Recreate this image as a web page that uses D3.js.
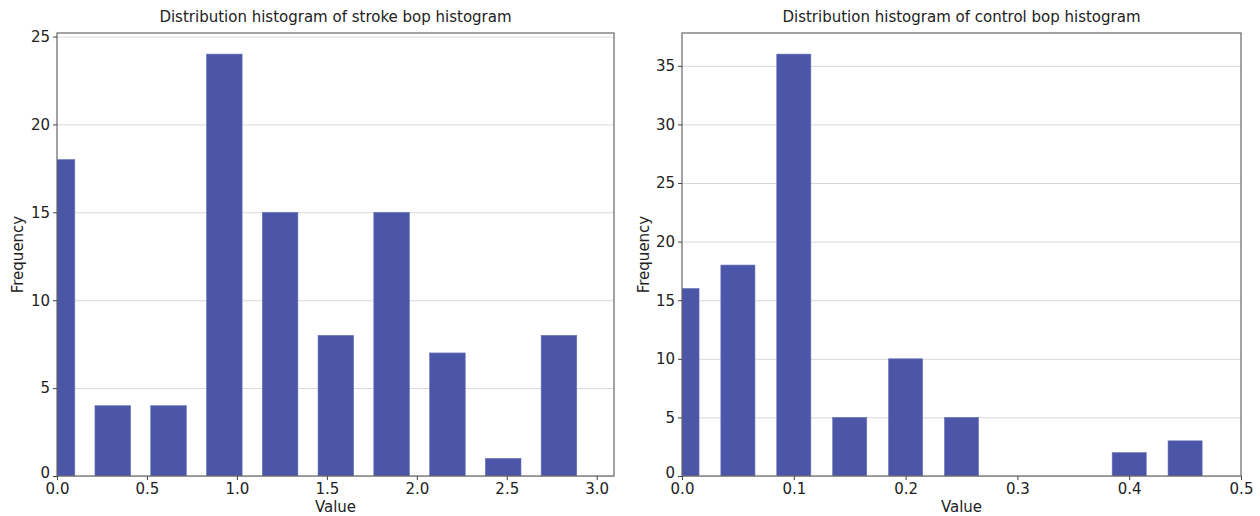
<!DOCTYPE html>
<html>
<head>
<meta charset="utf-8">
<script src="https://cdn.jsdelivr.net/npm/d3@7"></script>
<style>
  body { margin: 0; background: #fff; }
  text { font-family: "DejaVu Sans", sans-serif; fill: #222; }
  .grid line { stroke: #d9d9d9; stroke-width: 1; }
  .grid .domain { display: none; }
  .axis .domain { display: none; }
  .axis line { stroke: #444; }
</style>
</head>
<body>
<div id="chart"></div>
<script>
// stroke chart: bin centres and counts
var strokeCenters = [0, 0.31, 0.62, 0.93, 1.24, 1.55, 1.86, 2.17, 2.48, 2.79];
var strokeCounts = [18, 4, 4, 24, 15, 8, 15, 7, 1, 8];
var strokeXTicks = [0, 0.5, 1.0, 1.5, 2.0, 2.5, 3.0];
var strokeYTicks = [0, 5, 10, 15, 20, 25];

// control chart
var controlCenters = [0, 0.05, 0.10, 0.15, 0.20, 0.25, 0.30, 0.35, 0.40, 0.45];
var controlCounts = [16, 18, 36, 5, 10, 5, 0, 0, 2, 3];
var controlXTicks = [0, 0.1, 0.2, 0.3, 0.4, 0.5];
var controlYTicks = [0, 5, 10, 15, 20, 25, 30, 35];

var width = 1260, height = 516;
var svg = d3.select('#chart').append('svg')
    .attr('width', width)
    .attr('height', height);

function createChart(opts) {
  var chartWidth = opts.right - opts.left;
  var chartHeight = opts.bottom - opts.top;

  var g = svg.append('g')
      .attr('transform', `translate(${opts.left}, ${opts.top})`);

  var xScale = d3.scaleLinear().domain(opts.xDomain).range([0, chartWidth]);
  var yScale = d3.scaleLinear().domain(opts.yDomain).range([chartHeight, 0]);

  // gridlines
  g.append('g')
      .attr('class', 'grid')
      .call(d3.axisLeft(yScale).tickValues(opts.yTicks).tickSize(-chartWidth).tickFormat(''));

  var data = opts.centers.map((c, i) => ({x: c, n: opts.counts[i]}));

  // clip bars to the plot area
  g.append('clipPath').attr('id', opts.id + '-clip')
    .append('rect').attr('width', chartWidth).attr('height', chartHeight);

  g.append('g')
      .attr('clip-path', `url(#${opts.id}-clip)`)
    .selectAll('.bar')
      .data(data.filter(d => d.n > 0))
      .enter()
      .append('rect')
      .attr('class', 'bar')
      .attr('x', d => xScale(d.x - opts.barWidth / 2))
      .attr('y', d => yScale(d.n))
      .attr('width', d => xScale(d.x + opts.barWidth / 2) - xScale(d.x - opts.barWidth / 2))
      .attr('height', d => chartHeight - yScale(d.n))
      .attr('fill', '#4b56a8')
      .attr('stroke', '#6a74b8')
      .attr('stroke-width', 0.6);

  // frame
  g.append('rect')
      .attr('width', chartWidth)
      .attr('height', chartHeight)
      .attr('fill', 'none')
      .attr('stroke', '#666')
      .attr('stroke-width', 1.2);

  var xAxis = d3.axisBottom(xScale)
      .tickValues(opts.xTicks)
      .tickFormat(d3.format('.1f'))
      .tickSize(4).tickPadding(3);
  var yAxis = d3.axisLeft(yScale)
      .tickValues(opts.yTicks)
      .tickFormat(d3.format('d'))
      .tickSize(4).tickPadding(3);

  g.append('g')
      .attr('class', 'x axis')
      .attr('transform', `translate(0,${chartHeight})`)
      .call(xAxis)
      .selectAll('text').style('font-size', '15px');

  // lift the zero label a touch so it clears the x labels
  g.append('g')
      .attr('class', 'y axis')
      .call(yAxis)
      .selectAll('text')
      .style('font-size', '15px')
      .attr('dy', d => d === 0 ? '0.1em' : '0.32em');

  g.append('text')
      .attr('x', chartWidth / 2)
      .attr('y', -11)
      .attr('text-anchor', 'middle')
      .style('font-size', '15px')
      .text(opts.title);

  g.append('text')
      .attr('x', chartWidth / 2)
      .attr('y', chartHeight + 36)
      .attr('text-anchor', 'middle')
      .style('font-size', '15px')
      .text('Value');

  g.append('text')
      .attr('transform', `translate(${opts.yLabelX}, ${chartHeight / 2}) rotate(-90)`)
      .attr('text-anchor', 'middle')
      .style('font-size', '15px')
      .text('Frequency');
}

createChart({
  id: 'stroke',
  left: 57, right: 614, top: 33, bottom: 476,
  xDomain: [0, 3.096], yDomain: [0, 25.2],
  centers: strokeCenters, counts: strokeCounts, barWidth: 0.198,
  xTicks: strokeXTicks, yTicks: strokeYTicks,
  title: 'Distribution histogram of stroke bop histogram',
  yLabelX: -34
});

createChart({
  id: 'control',
  left: 682, right: 1241, top: 33, bottom: 476,
  xDomain: [0, 0.5], yDomain: [0, 37.8],
  centers: controlCenters, counts: controlCounts, barWidth: 0.0305,
  xTicks: controlXTicks, yTicks: controlYTicks,
  title: 'Distribution histogram of control bop histogram',
  yLabelX: -33
});
</script>
</body>
</html>
